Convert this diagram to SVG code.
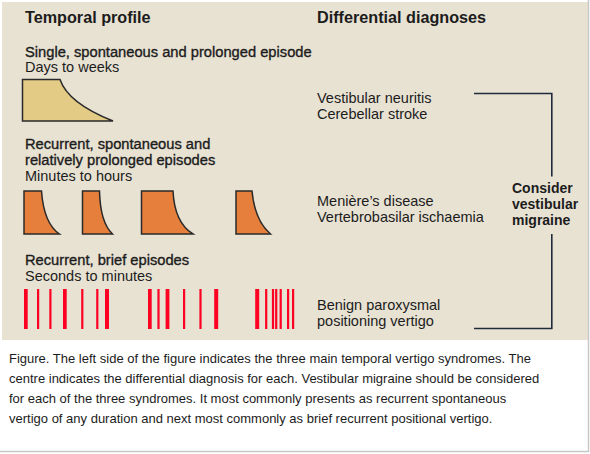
<svg xmlns="http://www.w3.org/2000/svg" width="590" height="454" viewBox="0 0 590 454">
<style>
text{font-family:"Liberation Sans",Arial,sans-serif;fill:#1c1c1c}
.h{font-size:16.2px;font-weight:bold}
.m{font-size:14.7px;stroke:#1c1c1c;stroke-width:0.35}
.r{font-size:14.5px}
.b{font-size:14px;font-weight:bold}
.c{font-size:13px}
.y{fill:#e3cb86;stroke:#2a2a2a;stroke-width:1.5}
.o{fill:#e67f3b;stroke:#2a2a2a;stroke-width:1.5}
.k{fill:#fd0022}
.ln{fill:none;stroke:#1f2a3a;stroke-width:1.6}
</style>
<rect x="0" y="0" width="590" height="454" fill="#ffffff"/>
<rect x="2" y="2" width="586" height="338" fill="#e8e2d3"/>
<line x1="588.5" y1="0" x2="588.5" y2="452" stroke="#c8c8c8" stroke-width="1.5"/>
<line x1="0" y1="451.5" x2="589" y2="451.5" stroke="#c8c8c8" stroke-width="1.5"/>

<g id="headers">
<text class="h" x="25" y="23">Temporal profile</text>
<text class="h" x="317" y="23">Differential diagnoses</text>
</g>

<g id="single">
<text class="m" x="25" y="57">Single, spontaneous and prolonged episode</text>
<text class="r" x="25" y="72">Days to weeks</text>
<path class="y" d="M22.5,79.5 H60 C65,94 80,108 113,121 H22.5 Z"/>
</g>

<g id="recurrent-prolonged">
<text class="m" x="25" y="149">Recurrent, spontaneous and</text>
<text class="m" x="25" y="165">relatively prolonged episodes</text>
<text class="r" x="25" y="181">Minutes to hours</text>
<path class="o" d="M24,191 H41.5 C43,212 49,227 59.5,234 H24 Z"/>
<path class="o" d="M82.5,191 H99.5 C100,212 104,226 112.5,234 H82.5 Z"/>
<path class="o" d="M141.5,191 H173 C174,212 180,226 193,234 H141.5 Z"/>
<path class="o" d="M236,191 H252 C254,212 261,226 270.5,234 H236 Z"/>
</g>

<g id="recurrent-brief">
<text class="m" x="25" y="265">Recurrent, brief episodes</text>
<text class="r" x="25" y="281">Seconds to minutes</text>
<g class="k">
<rect x="24" y="289" width="3.7" height="40"/>
<rect x="37" y="289" width="2.2" height="40"/>
<rect x="49.3" y="289" width="2.2" height="40"/>
<rect x="63" y="289" width="3.7" height="40"/>
<rect x="81.2" y="289" width="2.2" height="40"/>
<rect x="96.2" y="289" width="2.2" height="40"/>
<rect x="105" y="289" width="4" height="40"/>
<rect x="148" y="289" width="3.7" height="40"/>
<rect x="157.4" y="289" width="2.2" height="40"/>
<rect x="165.6" y="289" width="3.8" height="40"/>
<rect x="183" y="289" width="2.2" height="40"/>
<rect x="199.4" y="289" width="2.2" height="40"/>
<rect x="214.2" y="289" width="4" height="40"/>
<rect x="255.2" y="289" width="4" height="40"/>
<rect x="265.1" y="289" width="2.2" height="40"/>
<rect x="271.9" y="289" width="2.2" height="40"/>
<rect x="275.1" y="289" width="2.2" height="40"/>
<rect x="279.6" y="289" width="2.2" height="40"/>
<rect x="287" y="289" width="2.2" height="40"/>
<rect x="292" y="289" width="2.2" height="40"/>
</g>
</g>

<g id="diagnoses">
<text class="r" x="317" y="103">Vestibular neuritis</text>
<text class="r" x="317" y="119">Cerebellar stroke</text>
<text class="r" x="317" y="206">Menière’s disease</text>
<text class="r" x="317" y="222">Vertebrobasilar ischaemia</text>
<text class="r" x="317" y="310">Benign paroxysmal</text>
<text class="r" x="317" y="326">positioning vertigo</text>
</g>

<g id="connectors">
<path class="ln" d="M474,93.5 H551.8 V176.5"/>
<path class="ln" d="M551.8,234 V328.5 H474"/>
</g>

<g id="consider">
<text class="b" x="512" y="193">Consider</text>
<text class="b" x="512" y="209">vestibular</text>
<text class="b" x="512" y="225">migraine</text>
</g>

<g id="caption">
<text class="c" x="9" y="363">Figure. The left side of the figure indicates the three main temporal vertigo syndromes. The</text>
<text class="c" x="9" y="383">centre indicates the differential diagnosis for each. Vestibular migraine should be considered</text>
<text class="c" x="9" y="403">for each of the three syndromes. It most commonly presents as recurrent spontaneous</text>
<text class="c" x="9" y="423">vertigo of any duration and next most commonly as brief recurrent positional vertigo.</text>
</g>
</svg>
